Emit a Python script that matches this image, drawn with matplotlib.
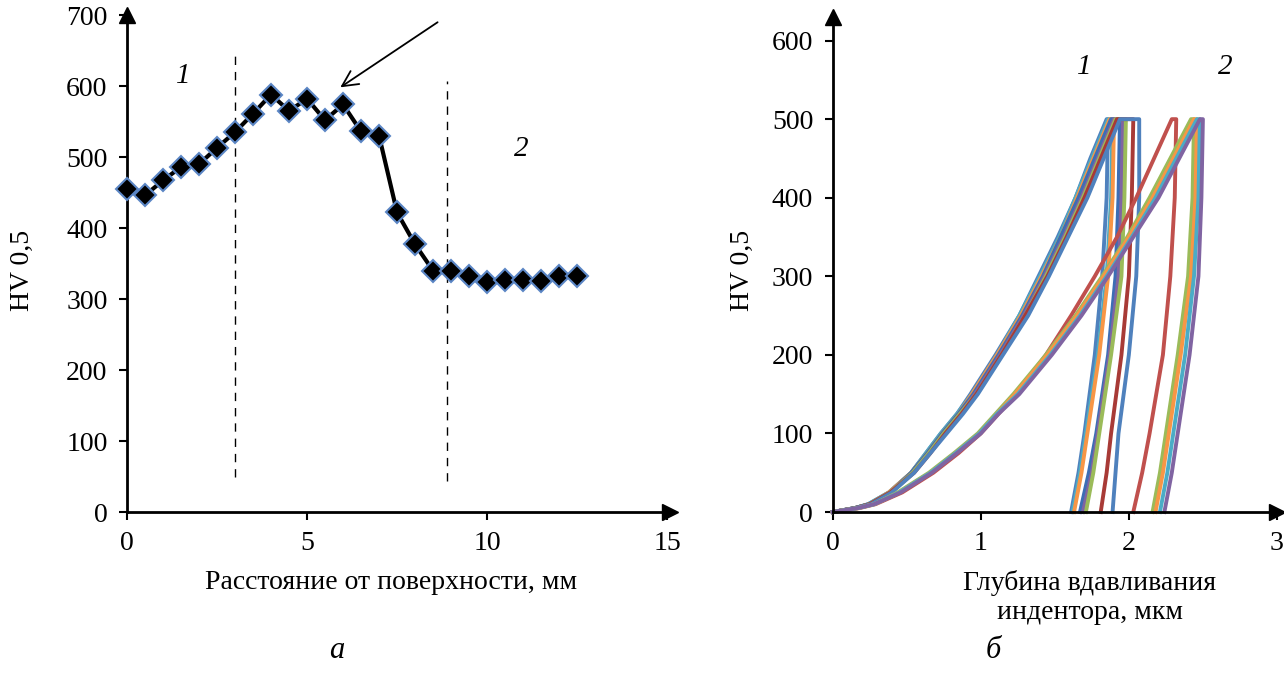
import numpy as np
import matplotlib
matplotlib.use('Agg')
import matplotlib.pyplot as plt

plt.rcParams['font.family'] = ['Liberation Serif', 'DejaVu Serif']

# ---- panel a: hardness profile ----
dist_mm = [0, 0.5, 1, 1.5, 2, 2.5, 3, 3.5, 4, 4.5, 5, 5.5, 6, 6.5, 7, 7.5, 8,
           8.5, 9, 9.5, 10, 10.5, 11, 11.5, 12, 12.5]
hv = [455, 446, 467, 486, 490, 513, 535, 561, 588, 565, 582, 552, 574, 536,
      530, 422, 377, 340, 339, 333, 324, 327, 327, 325, 332, 333]
zone_borders = [3.0, 8.9]

# ---- panel b: indentation curves (load levels, depth per curve) ----
load_up = [0, 5, 10, 25, 50, 75, 100, 125, 150, 200, 250, 300, 350, 400, 450, 500]
load_down = [500, 400, 300, 200, 100, 50, 0]

depth_up = [
    [0, 0.15, 0.24, 0.38, 0.53, 0.63, 0.73, 0.84, 0.93, 1.10, 1.26, 1.39, 1.52, 1.64, 1.74, 1.85],
    [0, 0.15, 0.24, 0.38, 0.53, 0.63, 0.73, 0.84, 0.94, 1.11, 1.26, 1.40, 1.53, 1.64, 1.75, 1.86],
    [0, 0.15, 0.25, 0.38, 0.53, 0.64, 0.74, 0.85, 0.94, 1.11, 1.27, 1.41, 1.54, 1.65, 1.76, 1.87],
    [0, 0.15, 0.25, 0.39, 0.53, 0.64, 0.74, 0.85, 0.95, 1.12, 1.28, 1.42, 1.54, 1.66, 1.77, 1.88],
    [0, 0.15, 0.25, 0.39, 0.54, 0.65, 0.75, 0.86, 0.96, 1.13, 1.29, 1.43, 1.56, 1.68, 1.79, 1.90],
    [0, 0.15, 0.25, 0.39, 0.54, 0.65, 0.75, 0.86, 0.97, 1.14, 1.30, 1.44, 1.57, 1.69, 1.80, 1.91],
    [0, 0.15, 0.25, 0.39, 0.55, 0.66, 0.76, 0.87, 0.97, 1.14, 1.30, 1.45, 1.58, 1.70, 1.81, 1.92],
    [0, 0.15, 0.26, 0.40, 0.55, 0.66, 0.77, 0.88, 0.98, 1.15, 1.32, 1.46, 1.59, 1.72, 1.83, 1.94],
    [0, 0.18, 0.29, 0.47, 0.68, 0.85, 1.00, 1.12, 1.24, 1.44, 1.61, 1.77, 1.92, 2.05, 2.17, 2.29],
    [0, 0.17, 0.28, 0.44, 0.65, 0.82, 0.98, 1.10, 1.22, 1.44, 1.64, 1.82, 1.99, 2.14, 2.28, 2.42],
    [0, 0.17, 0.28, 0.45, 0.66, 0.83, 0.99, 1.11, 1.23, 1.45, 1.65, 1.83, 2.00, 2.16, 2.30, 2.44],
    [0, 0.17, 0.28, 0.45, 0.66, 0.83, 0.99, 1.11, 1.25, 1.47, 1.67, 1.85, 2.02, 2.18, 2.32, 2.46],
    [0, 0.17, 0.28, 0.46, 0.67, 0.84, 1.00, 1.12, 1.26, 1.48, 1.68, 1.86, 2.03, 2.20, 2.34, 2.48],
]
depth_down = [
    [1.86, 1.85, 1.82, 1.77, 1.70, 1.66, 1.61],
    [1.89, 1.88, 1.85, 1.79, 1.71, 1.67, 1.62],
    [1.90, 1.89, 1.86, 1.80, 1.72, 1.68, 1.63],
    [1.94, 1.93, 1.91, 1.86, 1.78, 1.73, 1.67],
    [1.96, 1.95, 1.93, 1.87, 1.79, 1.75, 1.69],
    [1.98, 1.97, 1.95, 1.88, 1.80, 1.76, 1.71],
    [2.03, 2.02, 2.00, 1.95, 1.88, 1.85, 1.81],
    [2.07, 2.07, 2.05, 2.00, 1.93, 1.91, 1.89],
    [2.32, 2.31, 2.28, 2.23, 2.14, 2.09, 2.03],
    [2.44, 2.43, 2.40, 2.33, 2.25, 2.21, 2.16],
    [2.46, 2.45, 2.42, 2.35, 2.27, 2.23, 2.18],
    [2.48, 2.47, 2.44, 2.38, 2.30, 2.26, 2.21],
    [2.50, 2.49, 2.47, 2.41, 2.33, 2.29, 2.24],
]
curve_colors = ['#4F81BD', '#4BACC6', '#F79646', '#3C6EB4', '#8064A2',
                '#9BBB59', '#A83A36', '#4F81BD',
                '#C0504D', '#9BBB59', '#F79646', '#4BACC6', '#8064A2']

fig = plt.figure(figsize=(12.84, 6.86), dpi=100)
ax1 = fig.add_axes([0.0989, 0.2536, 0.4229, 0.7245])
ax2 = fig.add_axes([0.6485, 0.2536, 0.3460, 0.7216])


def style_axes(ax):
    for s in ['top', 'right']:
        ax.spines[s].set_visible(False)
    for s in ['left', 'bottom']:
        ax.spines[s].set_linewidth(2)
    ax.tick_params(direction='out', length=6, width=1.5, labelsize=20, pad=8)
    ax.plot(1, 0, '>k', ms=11, transform=ax.get_yaxis_transform(), clip_on=False)
    ax.plot(0, 1, '^k', ms=11, transform=ax.get_xaxis_transform(), clip_on=False)


# panel a
ax1.plot(dist_mm, hv, color='black', lw=3, marker='D', ms=11,
         mfc='black', mec='#5B86C5', mew=1.5, clip_on=False, zorder=3)
for xb, (y0, y1) in zip(zone_borders, [(50, 645), (44, 607)]):
    ax1.plot([xb, xb], [y0, y1], color='black', lw=1, ls=(0, (6, 5)))
ax1.text(1.56, 614, '1', fontsize=21, style='italic', ha='center', va='center')
ax1.text(10.94, 511, '2', fontsize=21, style='italic', ha='center', va='center')
ax1.annotate('', xy=(5.86, 596), xytext=(8.69, 692),
             arrowprops=dict(arrowstyle='->', color='black', lw=1.3,
                             mutation_scale=28))
ax1.set_xlim(0, 15.08)
ax1.set_ylim(0, 700)
ax1.set_xticks([0, 5, 10, 15])
ax1.set_yticks(range(0, 701, 100))
style_axes(ax1)
ax1.set_xlabel('Расстояние от поверхности, мм', fontsize=20, va='center')
ax1.xaxis.set_label_coords(0.486, -0.141)
ax1.set_ylabel('HV 0,5', fontsize=20, va='center')
ax1.yaxis.set_label_coords(-0.193, 0.487)

# panel b
for up, down, c in zip(depth_up, depth_down, curve_colors):
    xs = up + down
    ys = load_up + load_down
    ax2.plot(xs, ys, color=c, lw=2.8, clip_on=False, solid_joinstyle='round')
ax2.text(1.70, 566, '1', fontsize=21, style='italic', ha='center', va='center')
ax2.text(2.65, 567, '2', fontsize=21, style='italic', ha='center', va='center')
ax2.set_xlim(0, 2.99)
ax2.set_ylim(0, 630)
ax2.set_xticks([0, 1, 2, 3])
ax2.set_yticks(range(0, 601, 100))
style_axes(ax2)
ax2.set_xlabel('Глубина вдавливания\nиндентора, мкм', fontsize=20,
               va='center', linespacing=1.2)
ax2.xaxis.set_label_coords(0.579, -0.172)
ax2.set_ylabel('HV 0,5', fontsize=20, va='center')
ax2.yaxis.set_label_coords(-0.204, 0.489)

fig.text(337 / 1284, 1 - 650 / 686, 'а', fontsize=22, style='italic',
         ha='center', va='center')
fig.text(993 / 1284, 1 - 650 / 686, 'б', fontsize=22, style='italic',
         ha='center', va='center')

fig.savefig('out.png', dpi=100)
